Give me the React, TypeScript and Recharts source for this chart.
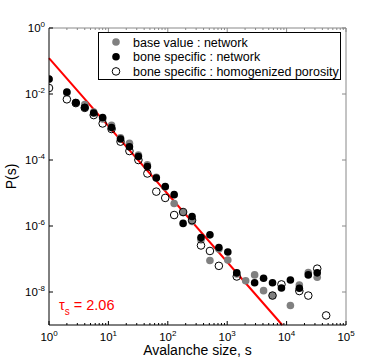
import { ScatterChart, Scatter, XAxis, YAxis, ReferenceLine, Legend } from 'recharts';

// avalanche size bins (log-binned, factor sqrt(2))
const SIZES = [
  1, 2, 2.83, 4, 5.66, 8, 11.3, 16, 22.6, 32, 45.3, 64, 90.5, 128, 181, 256, 362, 512,
  724, 1024, 1448, 2048, 2896, 4096, 5793, 8192, 11585, 16384, 23170, 32768, 46341,
];

// P(s), base value : network (grey)
const P_BASE = [
  2.8e-2, 1.1e-2, 5.3e-3, 4.8e-3, 2.85e-3, 1.74e-3, 1.12e-3, 4.7e-4, 3.2e-4, 1.42e-4,
  7.1e-5, 3.0e-5, 1.52e-5, 4.8e-6, 2.57e-6, 1.38e-6, 3.8e-7, 9e-8, 2.0e-7, 9.3e-8,
  3.5e-8, 2.2e-8, 3.3e-8, 1.1e-8, 7.8e-9, null, 3.9e-9, 1.63e-8, 3.9e-8, 2.8e-8, null,
];

// P(s), bone specific : network (black)
const P_BONE = [
  2.85e-2, 1.15e-2, 5.5e-3, 3.9e-3, 2.65e-3, 1.95e-3, 9.6e-4, 4.35e-4, 2.5e-4, 1.28e-4,
  6.3e-5, 2.85e-5, 1.58e-5, 8.9e-6, 1.2e-6, 1.95e-6, 4.5e-7, 5.4e-7, 2.23e-7, 1.63e-7,
  3.8e-8, null, 1.9e-8, 2.6e-8, 1.9e-8, 1.32e-8, 2.3e-8, 1.3e-8, 3.3e-8, 3.8e-8, null,
];

// P(s), bone specific : homogenized porosity (open)
const P_HOMOG = [
  1.52e-2, 6.9e-3, 5.3e-3, 3.8e-3, 2.3e-3, 1.28e-3, 8.7e-4, 3.6e-4, 1.87e-4, 1.0e-4,
  3.9e-5, 1.1e-5, 7.1e-6, 2.15e-6, 2.65e-6, 1.5e-6, 2.57e-7, 1.75e-7, 6.2e-8, null,
  2.95e-8, null, null, null, 7.8e-9, 1.7e-8, null, 1.07e-8, 7.8e-9, 5.1e-8, 1.95e-9,
];

// power-law fit, tau_s = 2.06
const FIT_S = [1, 8450];
const FIT_P = [0.123, 1e-9];
const TAU = '2.06';

const X_DECADES = [1, 10, 100, 1000, 10000, 100000];
const Y_TICKS = [1, 1e-2, 1e-4, 1e-6, 1e-8];

const SERIES = [
  { name: 'base value : network', fill: '#808080', stroke: 'none' },
  { name: 'bone specific : network', fill: '#000', stroke: 'none' },
  { name: 'bone specific : homogenized porosity', fill: 'none', stroke: '#000' },
];

const W = 382;
const H = 364;
const PLOT_TOP = 28;
const PLOT_RIGHT = 346;
const FONT = '"Liberation Sans", Arial, Helvetica, sans-serif';

const xTicks = X_DECADES.flatMap((d, i) =>
  i === X_DECADES.length - 1 ? [d] : [1, 2, 3, 4, 5, 6, 7, 8, 9].map((k) => k * d)
);

const toPoints = (ps: (number | null)[]) =>
  SIZES.map((s, i) => ({ s, p: ps[i] })).filter((d) => d.p != null);

const isDecade = (v: number) => Math.abs(Math.log10(v) - Math.round(Math.log10(v))) < 1e-9;

const XTick = ({ x, y, payload }: any) => {
  const v = payload.value;
  const major = isDecade(v);
  const len = major ? 4 : 2;
  return (
    <g>
      <line x1={x} x2={x} y1={y} y2={y - len} stroke="#000" />
      <line x1={x} x2={x} y1={PLOT_TOP} y2={PLOT_TOP + len} stroke="#888" />
      {major && (
        <text x={x} y={y + 16} textAnchor="middle" fontSize={11.5} fill="#000" fontFamily={FONT}>
          10<tspan dy={-5} fontSize={8}>{Math.round(Math.log10(v))}</tspan>
        </text>
      )}
    </g>
  );
};

const YTick = ({ x, y, payload }: any) => {
  const e = Math.round(Math.log10(payload.value));
  return (
    <g>
      <line x1={x} x2={x + 4} y1={y} y2={y} stroke="#000" />
      <line x1={PLOT_RIGHT - 4} x2={PLOT_RIGHT} y1={y} y2={y} stroke="#888" />
      <text x={x - 4} y={y + 4} textAnchor="end" fontSize={11.5} fill="#000" fontFamily={FONT}>
        10<tspan dy={-5} fontSize={8}>{e}</tspan>
      </text>
    </g>
  );
};

const dot = (fill: string, stroke: string) => (props: any) => (
  <circle cx={props.cx} cy={props.cy} r={3.8} fill={fill} stroke={stroke} strokeWidth={1} />
);

const LegendBox = () => (
  <div style={{ width: 243, height: 48, boxSizing: 'border-box', border: '1px solid #000', background: '#fff' }}>
    <svg width={241} height={46} style={{ display: 'block' }}>
      {SERIES.map((s, i) => (
        <g key={s.name}>
          <circle cx={17} cy={9 + i * 14.7} r={3.8} fill={s.fill} stroke={s.stroke} />
          <text x={34} y={9 + i * 14.7 + 4.5} fontSize={12.5} fontFamily={FONT} fill="#000">
            {s.name}
          </text>
        </g>
      ))}
    </svg>
  </div>
);

export default function App() {
  return (
    <div style={{ position: 'absolute', left: 0, top: 0, width: W, height: H, background: '#fff', fontFamily: FONT }}>
      <ScatterChart width={W} height={H} margin={{ top: PLOT_TOP, right: W - PLOT_RIGHT, bottom: 0, left: 0 }}>
        <XAxis
          dataKey="s"
          type="number"
          scale="log"
          domain={[1, 100000]}
          allowDataOverflow
          ticks={xTicks}
          interval={0}
          tick={<XTick />}
          tickLine={false}
          tickSize={0}
          tickMargin={0}
          height={39}
          axisLine={{ stroke: '#000' }}
          label={{ value: 'Avalanche size, s', position: 'insideBottom', offset: 9, fontSize: 14, fill: '#000' }}
        />
        <YAxis
          dataKey="p"
          type="number"
          scale="log"
          domain={[1e-9, 1]}
          allowDataOverflow
          ticks={Y_TICKS}
          interval={0}
          tick={<YTick />}
          tickLine={false}
          tickSize={0}
          tickMargin={0}
          width={49}
          axisLine={{ stroke: '#000' }}
          label={{ value: 'P(s)', angle: -90, position: 'insideLeft', offset: 11, fontSize: 14, fill: '#000', style: { textAnchor: 'middle' } }}
        />
        <ReferenceLine y={1} stroke="#888" />
        <ReferenceLine x={100000} stroke="#888" />
        <Scatter name={SERIES[0].name} data={toPoints(P_BASE)} shape={dot(SERIES[0].fill, SERIES[0].stroke)} isAnimationActive={false} />
        <Scatter name={SERIES[1].name} data={toPoints(P_BONE)} shape={dot(SERIES[1].fill, SERIES[1].stroke)} isAnimationActive={false} />
        <Scatter name={SERIES[2].name} data={toPoints(P_HOMOG)} shape={dot(SERIES[2].fill, SERIES[2].stroke)} isAnimationActive={false} />
        <ReferenceLine
          segment={[
            { x: FIT_S[0], y: FIT_P[0] },
            { x: FIT_S[1], y: FIT_P[1] },
          ]}
          stroke="#ff0000"
          strokeWidth={2}
        />
        <Legend
          layout="vertical"
          align="center"
          verticalAlign="middle"
          content={<LegendBox />}
          wrapperStyle={{ position: 'absolute', left: 98, top: 32, width: 'auto', height: 'auto' }}
        />
      </ScatterChart>
      <svg width={W} height={H} style={{ position: 'absolute', left: 0, top: 0, pointerEvents: 'none' }}>
        <text x={59} y={310} fill="#ff0000" fontSize={14.5} fontFamily={FONT}>
          τ<tspan dy={5} fontSize={10}>s</tspan>
          <tspan dy={-5}> = {TAU}</tspan>
        </text>
      </svg>
    </div>
  );
}
